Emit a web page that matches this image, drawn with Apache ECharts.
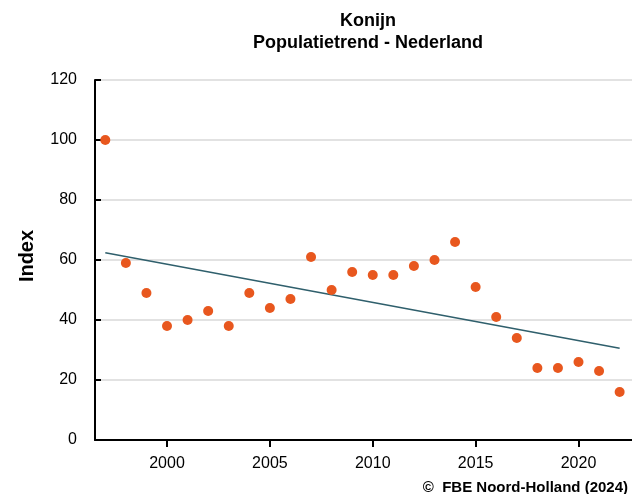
<!DOCTYPE html>
<html><head><meta charset="utf-8">
<script src="https://cdn.jsdelivr.net/npm/echarts@6/dist/echarts.min.js"></script>
<style>html,body{margin:0;padding:0;background:#fff}#c{width:632px;height:494px}</style>
</head><body><div id="c"></div>
<script>
const years = [1997,1998,1999,2000,2001,2002,2003,2004,2005,2006,2007,2008,2009,2010,2011,2012,2013,2014,2015,2016,2017,2018,2019,2020,2021,2022];
const index = [100,59,49,38,40,43,38,49,44,47,61,50,56,55,55,58,60,66,51,41,34,24,24,26,23,16];
const trendYears = [1997, 2022];
const trendValues = [62.4, 30.6];
const xTicks = [2000,2005,2010,2015,2020];
const title = 'Konijn';
const subtitle = 'Populatietrend - Nederland';
const yName = 'Index';
const credit = '©  FBE Noord-Holland (2024)';

const font = 'Liberation Sans, Arial, Helvetica, sans-serif';
const chart = echarts.init(document.getElementById('c'));
chart.setOption({
  animation: false,
  title: {
    text: title + '\n' + subtitle,
    left: 363, top: 5, textAlign: 'center',
    textStyle: {fontFamily: font, fontSize: 18, fontWeight: 'bold', color: '#000', lineHeight: 22}
  },
  graphic: [{
    type: 'text', right: 4, top: 480,
    style: {text: credit, font: 'bold 15px ' + font, fill: '#000'}
  }, {
    type: 'text', x: 27, y: 256, rotation: Math.PI / 2,
    style: {text: yName, font: 'bold 20px ' + font, fill: '#000', align: 'center', verticalAlign: 'middle'}
  }],
  grid: {left: 95, right: 0, top: 80, bottom: 54, containLabel: false},
  xAxis: {
    type: 'value', min: 1996.5, max: 2022.6,
    splitLine: {show: false},
    axisLine: {lineStyle: {color: '#000', width: 2}},
    axisTick: {show: true, length: 7, lineStyle: {color: '#000', width: 2}, customValues: xTicks},
    axisLabel: {customValues: xTicks, fontFamily: font, fontSize: 16, color: '#000', margin: 16,
      formatter: v => String(v)},
  },
  yAxis: {
    type: 'value', min: 0, max: 120, interval: 20,
    axisLine: {show: true, lineStyle: {color: '#000', width: 2}},
    axisTick: {show: true, inside: true, length: 6, lineStyle: {color: '#000', width: 2}},
    axisLabel: {fontFamily: font, fontSize: 16, color: '#000', margin: 18, padding: [3, 0, 0, 0]},
    splitLine: {lineStyle: {color: '#d9d9d9', width: 1.5}}
  },
  series: [{
    type: 'line',
    data: trendYears.map((y, i) => [y, trendValues[i]]),
    symbol: 'none',
    lineStyle: {color: '#2f5f6c', width: 1.5},
    z: 2
  }, {
    type: 'scatter',
    data: years.map((y, i) => [y, index[i]]),
    symbolSize: 10,
    itemStyle: {color: '#e8571e', opacity: 1},
    z: 3
  }]
});
</script></body></html>
